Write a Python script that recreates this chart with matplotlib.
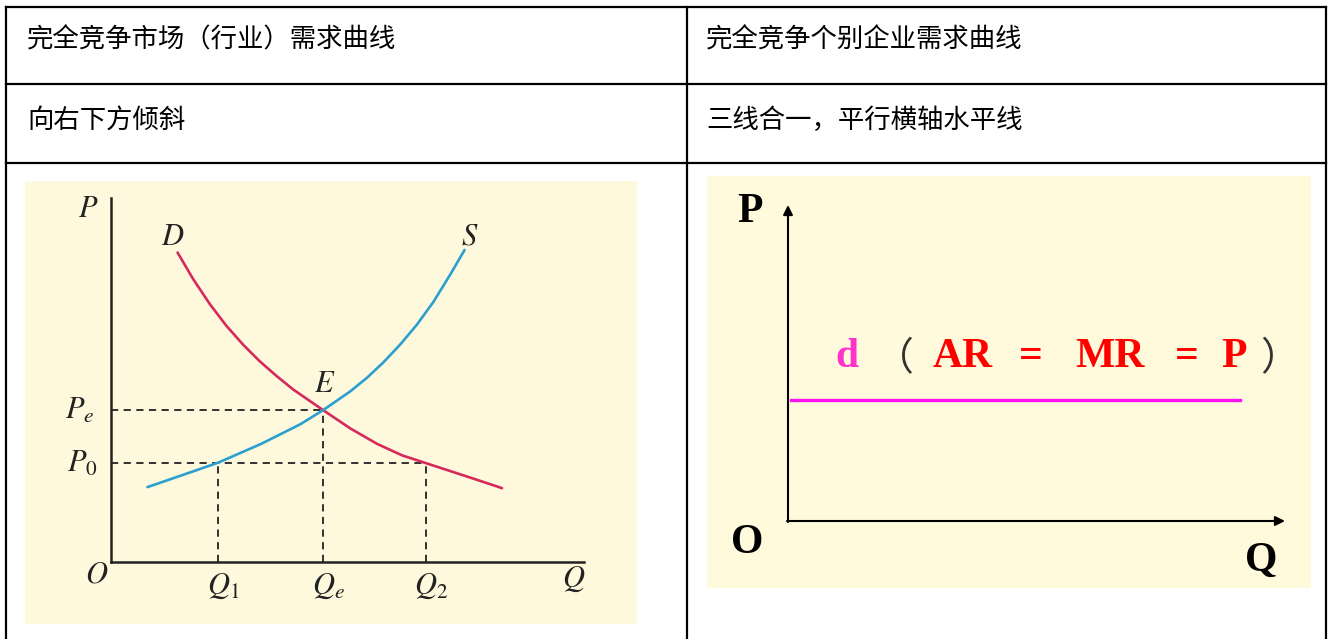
import numpy as np
import matplotlib.pyplot as plt

plt.rcParams['font.family'] = ['Noto Sans CJK SC', 'DejaVu Sans']
plt.rcParams['mathtext.fontset'] = 'stix'

# 表の文字
header_left = "完全竞争市场（行业）需求曲线"
header_right = "完全竞争个别企业需求曲线"
row2_left = "向右下方倾斜"
row2_right = "三线合一，平行横轴水平线"

# 需要曲線 D と供給曲線 S
d_q = [0.64, 0.79, 0.95, 1.11, 1.27, 1.43, 1.59, 1.75, 2.04, 2.30, 2.56,
       2.80, 3.03, 3.26, 3.52, 3.76]
d_p = [2.975, 2.72, 2.48, 2.27, 2.09, 1.93, 1.79, 1.66, 1.46, 1.285, 1.135,
       1.025, 0.95, 0.875, 0.79, 0.71]
s_q = [0.35, 0.67, 1.03, 1.44, 1.82, 2.04, 2.30, 2.46, 2.62, 2.78, 2.94,
       3.10, 3.26, 3.40]
s_p = [0.72, 0.83, 0.955, 1.134, 1.324, 1.46, 1.64, 1.77, 1.92, 2.09, 2.28,
       2.50, 2.76, 3.0]

# 均衡点など
q1, qe, q2 = 1.03, 2.04, 3.03
pe, p0 = 1.46, 0.95
q_labels = [r"$Q_1$", r"$Q_e$", r"$Q_2$"]

# 個別企業の需要曲線 d
d_level = 1.21
d_start, d_end = 0.03, 4.52
d_text = ["AR", "=", "MR", "=", "P"]
d_text_x = [1.75, 2.425, 3.22, 3.985, 4.46]

fig = plt.figure(figsize=(13.32, 6.39), dpi=100)

# 表の枠線
ax0 = fig.add_axes([0, 0, 1, 1])
ax0.set_xlim(0, 1332)
ax0.set_ylim(639, 0)
ax0.axis("off")
lw_t = 1.6
for y in [7, 84, 163]:
    ax0.plot([6, 1326], [y, y], color="black", lw=lw_t)
for x in [6, 687, 1326]:
    ax0.plot([x, x], [7, 639], color="black", lw=lw_t)

ax0.text(27, 40, header_left, fontsize=19, va="center", ha="left")
ax0.text(706, 40, header_right, fontsize=19, va="center", ha="left")
ax0.text(27, 120, row2_left, fontsize=19, va="center", ha="left")
ax0.text(706, 120, row2_right, fontsize=19, va="center", ha="left")

# 左の図：市場の需要と供給
ax1 = fig.add_axes([25 / 1332, (639 - 624) / 639, 612 / 1332, 443 / 639])
ax1.set_facecolor("#fef9dc")
ax1.set_xlim(-0.827, 5.058)
ax1.set_ylim(-0.596, 3.663)
for s in ax1.spines.values():
    s.set_visible(False)
ax1.set_xticks([])
ax1.set_yticks([])

ax1.plot([0, 0], [0, 3.5], color="#222222", lw=1.8)
ax1.plot([0, 4.55], [0, 0], color="#222222", lw=1.8)

dash = dict(color="#222222", lw=1.3, ls=(0, (4, 3)))
ax1.plot([0, qe], [pe, pe], **dash)
ax1.plot([0, q2], [p0, p0], **dash)
ax1.plot([q1, q1], [0, p0], **dash)
ax1.plot([qe, qe], [0, pe], **dash)
ax1.plot([q2, q2], [0, p0], **dash)

ax1.plot(d_q, d_p, color="#d62a5c", lw=1.9, solid_capstyle="round",
         solid_joinstyle="round")
ax1.plot(s_q, s_p, color="#2b9fcf", lw=1.9, solid_capstyle="round",
         solid_joinstyle="round")

lab = dict(fontsize=22, ha="center", va="center", color="#222222")
ax1.text(-0.22, 3.40, r"$P$", **lab)
ax1.text(0.59, 3.13, r"$D$", **lab)
ax1.text(3.45, 3.13, r"$S$", **lab)
ax1.text(2.05, 1.72, r"$E$", **lab)
ax1.text(-0.30, pe, r"$P_e$", **lab)
ax1.text(-0.28, p0, r"$P_0$", **lab)
ax1.text(-0.14, -0.12, r"$O$", **lab)
for q, t in zip([q1, qe, q2], q_labels):
    ax1.text(q + 0.05, -0.23, t, **lab)
ax1.text(4.45, -0.16, r"$Q$", **lab)

# 右の図：個別企業の需要曲線
ax2 = fig.add_axes([707 / 1332, (639 - 588) / 639, 604 / 1332, 412 / 639])
ax2.set_facecolor("#fffadc")
ax2.set_xlim(-0.81, 5.23)
ax2.set_ylim(-0.67, 3.45)
for s in ax2.spines.values():
    s.set_visible(False)
ax2.set_xticks([])
ax2.set_yticks([])

arr = dict(arrowstyle="-|>", color="black", lw=1.5, mutation_scale=14,
           shrinkA=0, shrinkB=0)
ax2.annotate("", xy=(0, 3.16), xytext=(0, -0.01), arrowprops=arr)
ax2.annotate("", xy=(4.97, 0), xytext=(-0.01, 0), arrowprops=arr)

ax2.plot([d_start, d_end], [d_level, d_level], color="#ff10f0", lw=2.4)

big = dict(fontsize=30, fontweight="bold", family="Liberation Serif",
           ha="center", va="center")
ax2.text(-0.38, 3.09, "P", color="black", **big)
ax2.text(-0.41, -0.22, "O", color="black", **big)
ax2.text(4.73, -0.40, "Q", color="black", **big)

ty = 1.64
ax2.text(0.585, ty, "d", color="#ff33cc", **big)
ax2.text(1.06, ty - 0.02, "（", color="#333333", fontsize=28,
         ha="center", va="center")
for x, t in zip(d_text_x, d_text):
    ax2.text(x, ty, t, color="#ff0000", **big)
ax2.text(4.92, ty - 0.02, "）", color="#333333", fontsize=28,
         ha="center", va="center")

plt.savefig("out.png", dpi=100)
